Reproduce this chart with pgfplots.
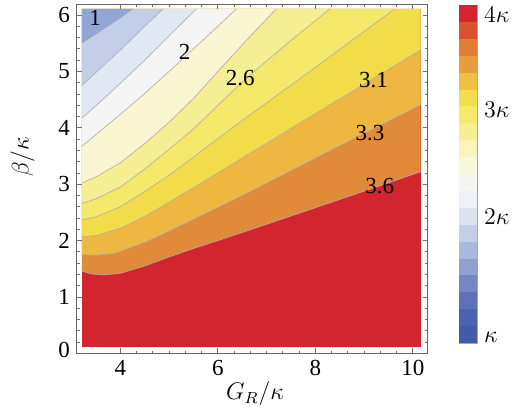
\documentclass[border=0pt]{standalone}
\usepackage{fontspec}
\setmainfont{Liberation Serif}
\usepackage{pgfplots}
\usepackage{pgfplotstable}
\pgfplotsset{compat=1.18}

\tikzset{
  contour line/.style={black!32, line width=0.3pt},
  contour label/.style={font=\fontsize{11.5}{13}\selectfont, inner sep=0pt},
}

% region colours, bottom (red) to top-left corner (blue)
\definecolor{z0}{HTML}{D22530}
\definecolor{z1}{HTML}{E08A3A}
\definecolor{z2}{HTML}{EDB742}
\definecolor{z3}{HTML}{F2DC4A}
\definecolor{z4}{HTML}{F5E76A}
\definecolor{z5}{HTML}{F6EE92}
\definecolor{z6}{HTML}{F8F5D0}
\definecolor{z7}{HTML}{F3F4F3}
\definecolor{z8}{HTML}{E2E8F3}
\definecolor{z9}{HTML}{C3CEE8}
\definecolor{z10}{HTML}{93A5D4}
% legend bands, bottom to top
\definecolor{cb0}{HTML}{3F5BAA}
\definecolor{cb1}{HTML}{4A63B0}
\definecolor{cb2}{HTML}{5C71B8}
\definecolor{cb3}{HTML}{7486C3}
\definecolor{cb4}{HTML}{8FA0D1}
\definecolor{cb5}{HTML}{ABB8DD}
\definecolor{cb6}{HTML}{C6CEE7}
\definecolor{cb7}{HTML}{DCE2F0}
\definecolor{cb8}{HTML}{EEF1F7}
\definecolor{cb9}{HTML}{F6F6F0}
\definecolor{cb10}{HTML}{F8F8DC}
\definecolor{cb11}{HTML}{F8F4BC}
\definecolor{cb12}{HTML}{F6EE92}
\definecolor{cb13}{HTML}{F5E96A}
\definecolor{cb14}{HTML}{F2DE4E}
\definecolor{cb15}{HTML}{EEBF42}
\definecolor{cb16}{HTML}{E89E3E}
\definecolor{cb17}{HTML}{E07E38}
\definecolor{cb18}{HTML}{D95330}
\definecolor{cb19}{HTML}{D22530}

% contour lines (x = G_R/kappa, y = beta/kappa)
\pgfplotstableread{
x y
3.21 1.46
3.40 1.41
3.65 1.39
4.00 1.42
4.50 1.55
5.00 1.71
5.50 1.86
6.00 2.00
6.66 2.19
8.40 2.70
10.16 3.22
}\cA
\pgfplotstableread{
x y
3.21 1.75
3.50 1.74
3.90 1.78
4.50 1.97
5.00 2.17
5.50 2.38
6.00 2.59
6.66 2.87
8.40 3.64
10.16 4.41
}\cB
\pgfplotstableread{
x y
3.21 2.07
3.50 2.09
4.00 2.22
4.50 2.43
5.00 2.68
5.50 2.94
6.00 3.20
6.66 3.55
8.40 4.46
10.16 5.38
}\cC
\pgfplotstableread{
x y
3.21 2.37
3.50 2.42
4.00 2.60
4.50 2.87
5.00 3.16
5.50 3.48
6.00 3.81
6.66 4.23
8.00 5.07
9.63 6.11
}\cD
\pgfplotstableread{
x y
3.21 2.66
3.50 2.74
4.00 2.95
4.50 3.27
5.00 3.62
5.50 3.98
6.00 4.40
6.66 4.94
7.50 5.55
8.30 6.11
}\cE
\pgfplotstableread{
x y
3.21 3.02
3.50 3.13
4.00 3.38
4.50 3.72
5.00 4.10
5.50 4.52
6.00 5.00
6.66 5.62
7.20 6.11
}\cF
\pgfplotstableread{
x y
3.21 3.67
3.50 3.88
4.00 4.24
4.50 4.61
5.00 5.00
5.50 5.40
6.00 5.80
6.38 6.11
}\cH
\pgfplotstableread{
x y
3.21 4.17
3.60 4.47
4.00 4.79
4.50 5.20
5.00 5.63
5.56 6.11
}\cI
\pgfplotstableread{
x y
3.21 4.75
3.60 5.06
4.00 5.38
4.50 5.80
4.88 6.11
}\cJ
\pgfplotstableread{
x y
3.21 5.50
3.60 5.72
4.00 5.95
4.26 6.11
}\cK

\begin{document}
\begin{tikzpicture}
\path[use as bounding box] (-38.5pt,-26.8pt) rectangle (218pt,176.7pt);
\begin{axis}[
    scale only axis,
    width=175.5pt, height=174.7pt,
    xmin=3.11, xmax=10.31, ymin=0, ymax=6.195,
    xtick={4,6,8,10}, ytick={0,1,2,3,4,5,6},
    yticklabels={\raisebox{3.5pt}{0},1,2,3,4,5,6},
    minor x tick num=5, minor y tick num=4,
    tick align=inside,
    major tick length=2.6pt, minor tick length=1.4pt,
    every tick/.style={black!55, line width=0.4pt},
    axis line style={black!60, line width=0.5pt},
    axis on top,
    tick label style={font=\fontsize{11.5}{13}\selectfont},
    /pgf/number format/assume math mode=true,
    xlabel={$G_R/\kappa$}, ylabel={$\beta/\kappa$},
    label style={font=\fontsize{12}{14}\selectfont},
    xlabel style={at={(axis description cs:0.507,-0.115)}, anchor=center},
    ylabel style={at={(axis description cs:-0.155,0.562)}, anchor=center},
  ]
  % lowest band fills the data area, each line then fills the area above it
  \addplot[fill=z0, draw=none] coordinates {(3.21,0.115) (10.16,0.115) (10.16,6.11) (3.21,6.11)} -- cycle;
  \addplot[fill=z1, draw=none] table {\cA} -- (axis cs:10.16,6.11) -- (axis cs:3.21,6.11) -- cycle;
  \addplot[fill=z2, draw=none] table {\cB} -- (axis cs:10.16,6.11) -- (axis cs:3.21,6.11) -- cycle;
  \addplot[fill=z3, draw=none] table {\cC} -- (axis cs:10.16,6.11) -- (axis cs:3.21,6.11) -- cycle;
  \addplot[fill=z4, draw=none] table {\cD} -- (axis cs:3.21,6.11) -- cycle;
  \addplot[fill=z5, draw=none] table {\cE} -- (axis cs:3.21,6.11) -- cycle;
  \addplot[fill=z6, draw=none] table {\cF} -- (axis cs:3.21,6.11) -- cycle;
  \addplot[fill=z7, draw=none] table {\cH} -- (axis cs:3.21,6.11) -- cycle;
  \addplot[fill=z8, draw=none] table {\cI} -- (axis cs:3.21,6.11) -- cycle;
  \addplot[fill=z9, draw=none] table {\cJ} -- (axis cs:3.21,6.11) -- cycle;
  \addplot[fill=z10, draw=none] table {\cK} -- (axis cs:3.21,6.11) -- cycle;
  % contour lines
  \addplot[contour line] table {\cA};
  \addplot[contour line] table {\cB};
  \addplot[contour line] table {\cC};
  \addplot[contour line] table {\cD};
  \addplot[contour line] table {\cE};
  \addplot[contour line] table {\cF};
  \addplot[contour line] table {\cH};
  \addplot[contour line] table {\cI};
  \addplot[contour line] table {\cJ};
  \addplot[contour line] table {\cK};
  \node[contour label] at (axis cs:3.48,5.94) {1};
  \node[contour label] at (axis cs:5.32,5.35) {2};
  \node[contour label] at (axis cs:6.46,4.88) {2.6};
  \node[contour label] at (axis cs:9.19,4.85) {3.1};
  \node[contour label] at (axis cs:9.12,3.90) {3.3};
  \node[contour label] at (axis cs:9.32,2.96) {3.6};
\end{axis}
% legend bar
\begin{axis}[
    at={(191pt,5.2pt)}, anchor=south west,
    scale only axis,
    width=9pt, height=169pt,
    xmin=0, xmax=1, ymin=0, ymax=20,
    ybar stacked, bar width=1,
    xtick=\empty,
    ytick={0.36,7.46,13.8,19.4},
    yticklabels={$\kappa$,$2\kappa$,$3\kappa$,$4\kappa$},
    yticklabel pos=right,
    major tick length=0pt,
    axis line style={black!35, line width=0.4pt},
    tick label style={font=\fontsize{12.5}{14}\selectfont},
  ]
  \pgfplotsinvokeforeach{0,...,19}{
    \addplot[fill=cb#1, draw=none] coordinates {(0.5,1)};
  }
\end{axis}
\end{tikzpicture}
\end{document}
